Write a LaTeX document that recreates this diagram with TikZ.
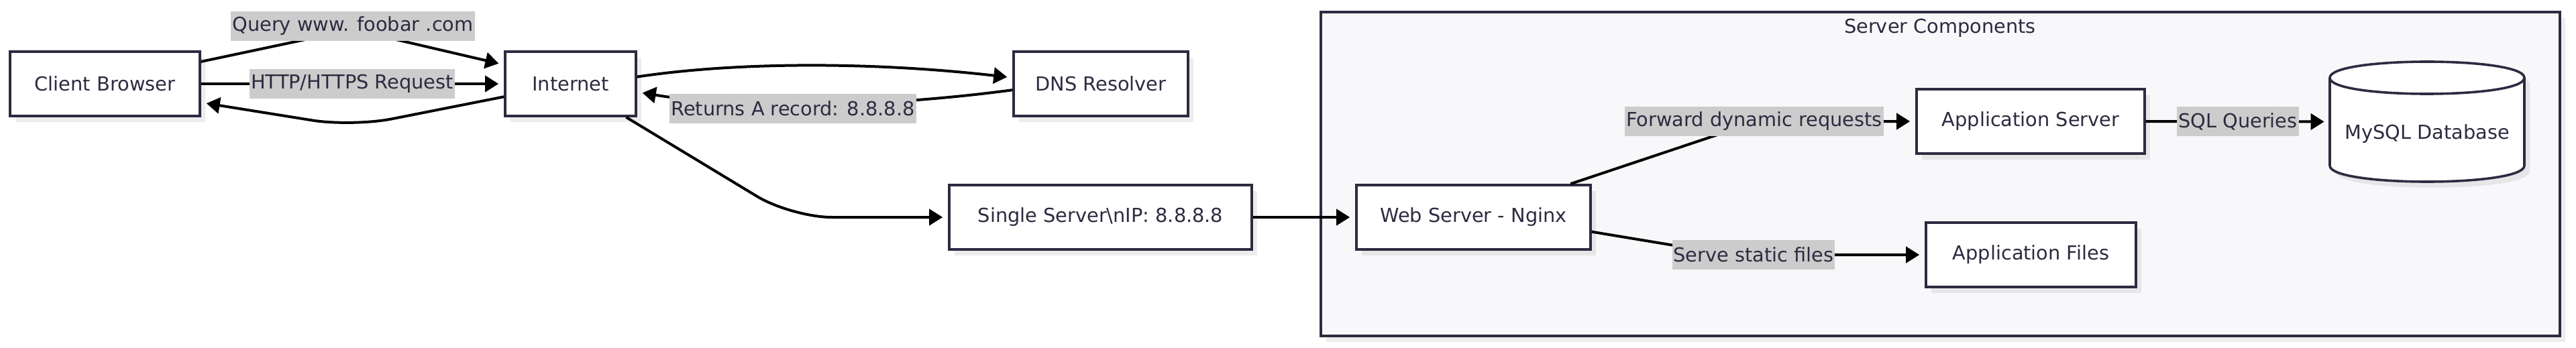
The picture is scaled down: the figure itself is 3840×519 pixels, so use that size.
\documentclass[tikz,border=0pt]{standalone}
\usepackage{fontspec}
\setmainfont{DejaVu Sans}
\usetikzlibrary{arrows.meta,calc,shadows}
\definecolor{bord}{HTML}{2B2B40}
\definecolor{txt}{HTML}{2B2B40}
\definecolor{lblbg}{HTML}{CCCCCC}
\definecolor{clus}{HTML}{F8F8FA}
\tikzset{
  basefont/.style={font=\fontsize{14.4}{17.3}\selectfont, text=txt},
  procbox/.style={basefont, draw=bord, line width=1.8pt, fill=white, minimum height=48pt, inner sep=0pt,
    drop shadow={shadow xshift=4pt, shadow yshift=-4.5pt, fill=black, opacity=0.07}},
  lbl/.style={basefont, fill=lblbg, inner xsep=1pt, inner ysep=0pt, minimum height=22pt},
  conn/.style={line width=2pt, draw=black, -{Triangle[length=10pt,width=12pt]}, shorten >=4pt},
}
\begin{document}
\begin{tikzpicture}[x=0.5pt,y=-0.5pt]
\useasboundingbox (0,0) rectangle (3840,519);
\fill[white] (0,0) rectangle (3840,519);
% cluster
\fill[black, opacity=0.07] (1977,27) rectangle (3824,510);
\draw[draw=bord, line width=1.8pt, fill=clus] (1969,18) rectangle (3816,501);
\node[basefont] (ctitle) at (2892,42) {Server Components};
% nodes
\node[procbox, minimum width=141.5pt] (client) at (156.5,125) {Client Browser};
\node[procbox, minimum width=97.5pt] (internet) at (850.5,125) {Internet};
\node[procbox, minimum width=130pt] (dns) at (1641,125) {DNS Resolver};
\node[procbox, minimum width=225.5pt] (single) at (1640.5,324) {Single Server\textbackslash{}nIP: 8.8.8.8};
\node[procbox, minimum width=174.5pt] (web) at (2196.5,324) {Web Server - Nginx};
\node[procbox, minimum width=170pt] (app) at (3027,181) {Application Server};
\node[procbox, minimum width=156.5pt] (files) at (3027.5,380) {Application Files};
% database cylinder
\begin{scope}[shift={(8,9)}]
\fill[black, opacity=0.07] (3473,116) -- (3473,247) .. controls (3473,279) and (3763,279) .. (3763,247) -- (3763,116) .. controls (3763,84) and (3473,84) .. (3473,116) -- cycle;
\end{scope}
\filldraw[fill=white, draw=bord, line width=1.8pt] (3473,116) -- (3473,247) .. controls (3473,279) and (3763,279) .. (3763,247) -- (3763,116) .. controls (3763,84) and (3473,84) .. (3473,116) -- cycle;
\draw[draw=bord, line width=1.8pt] (3473,116) .. controls (3473,148) and (3763,148) .. (3763,116);
\node[inner sep=0pt, minimum width=145pt, minimum height=89.5pt] (db) at (3618,181.5) {};
\node[basefont] (dbtext) at (3618,200) {MySQL Database};
% connectors
\draw[conn, rounded corners=30pt] (client.13) -- (526,44) -- (internet.164);
\draw[conn] (client.east) -- (internet.west);
\draw[conn, rounded corners=30pt] (internet.191) -- (525,189) -- (client.-11);
\draw[conn] (internet.6) .. controls (1100,92) and (1300,92) .. (dns.176);
\draw[conn] (dns.184) .. controls (1300,162) and (1100,162) .. (internet.-7);
\draw[conn, rounded corners=30pt] (internet.-31) -- (1180,324) -- (single.west);
\draw[conn] (single.east) -- (web.west);
\draw[conn, rounded corners=20pt] (web.19) -- (2620,181) -- (app.west);
\draw[conn] (app.east) -- (db.west);
\draw[conn, rounded corners=20pt] (web.-7) -- (2580,380) -- (files.west);
% labels
\node[lbl] (lq) at (526,39) {Query www. foobar .com};
\node[lbl] (lh) at (525,125) {HTTP/HTTPS Request};
\node[lbl] (lr) at (1182,162) {Returns A record: 8.8.8.8};
\node[lbl] (lf) at (2615,181) {Forward dynamic requests};
\node[lbl] (ls) at (3336,181) {SQL Queries};
\node[lbl] (lst) at (2614,380) {Serve static files};
\end{tikzpicture}
\end{document}
